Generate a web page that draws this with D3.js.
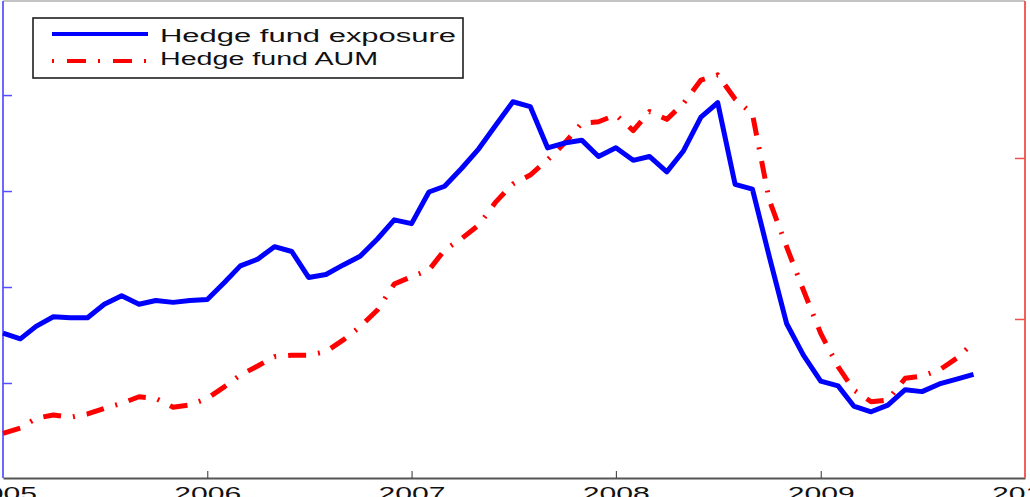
<!DOCTYPE html>
<html>
<head>
<meta charset="utf-8">
<script src="https://cdn.jsdelivr.net/npm/d3@7"></script>
<style>
  html, body { margin: 0; padding: 0; background: #fff; overflow: hidden; }
  svg { display: block; }
  text { font-family: "Liberation Sans", Arial, Helvetica, sans-serif; }
</style>
</head>
<body>
<svg id="chart" width="1030" height="497"></svg>
<script>
// ---- data ----
const startMonth = "2005-01";
const endMonth = "2009-10";
const yearTicks = [2005, 2006, 2007, 2008, 2009, 2010];
const tickLabels = ["2005", "2006", "2007", "2008", "2009", "2010"];
const seriesNames = ["Hedge fund exposure", "Hedge fund AUM"];
const exposure = [1.52, 1.46, 1.59, 1.69, 1.68, 1.68, 1.82, 1.91, 1.82, 1.86, 1.84, 1.86,
  1.87, 2.05, 2.22, 2.29, 2.42, 2.37, 2.10, 2.13, 2.23, 2.32, 2.50, 2.70,
  2.66, 2.99, 3.05, 3.24, 3.44, 3.69, 3.93, 3.88, 3.45, 3.50, 3.53, 3.36,
  3.45, 3.32, 3.36, 3.20, 3.42, 3.77, 3.92, 3.07, 3.02, 2.32, 1.62, 1.29,
  1.02, 0.97, 0.76, 0.70, 0.77, 0.93, 0.91, 0.99, 1.04, 1.09];
const aum = [0.290, 0.323, 0.383, 0.404, 0.389, 0.410, 0.445, 0.476, 0.517, 0.507, 0.452, 0.466,
  0.507, 0.580, 0.652, 0.708, 0.766, 0.775, 0.775, 0.797, 0.870, 0.952, 1.056, 1.217,
  1.263, 1.304, 1.429, 1.501, 1.584, 1.729, 1.839, 1.894, 1.988, 2.091, 2.216, 2.225,
  2.267, 2.170, 2.288, 2.240, 2.340, 2.484, 2.516, 2.366, 2.273, 1.739, 1.449, 1.180,
  0.911, 0.704, 0.559, 0.486, 0.497, 0.632, 0.646, 0.683, 0.756, 0.853];
const leftTicks = [1, 2, 3, 4];
const rightTicks = [1, 2];

// ---- setup ----
const svg = d3.select("#chart");
const parse = d3.utcParse("%Y-%m");
const months = d3.utcMonth.range(parse(startMonth), d3.utcMonth.offset(parse(endMonth), 1));

const plot = { left: 3, right: 1025, top: 1, bottom: 478 };

const x = d3.scaleUtc()
  .domain([new Date(Date.UTC(2005, 0, 1)), new Date(Date.UTC(2010, 0, 1))])
  .range([plot.left, plot.right]);
const yL = d3.scaleLinear().domain([0.01, 4.98]).range([plot.bottom, plot.top]);
const yR = d3.scaleLinear().domain([0.0124, 2.975]).range([plot.bottom, plot.top]);

// frame: top border
svg.append("line")
  .attr("x1", plot.left).attr("x2", plot.right)
  .attr("y1", plot.top).attr("y2", plot.top)
  .attr("stroke", "#b0b0b0").attr("stroke-width", 1.5);

// bottom axis
const xAxis = d3.axisBottom(x)
  .tickValues(yearTicks.map(yr => new Date(Date.UTC(yr, 0, 1))))
  .tickSizeInner(-7).tickSizeOuter(0).tickFormat("");
const gx = svg.append("g").attr("transform", `translate(0,${plot.bottom})`).call(xAxis);
gx.select(".domain").attr("stroke", "#555").attr("stroke-width", 2);
gx.selectAll(".tick line").attr("stroke", "#333").attr("stroke-width", 1);

// tick labels (stretched horizontally like the reference)
gx.selectAll(".tick").each(function(d, i) {
  d3.select(this).append("text")
    .attr("x", -33.5).attr("y", 22)
    .attr("text-anchor", "start")
    .attr("fill", "#111")
    .attr("font-size", 18)
    .attr("textLength", 67)
    .attr("lengthAdjust", "spacingAndGlyphs")
    .text(tickLabels[i]);
});

// left axis
const yAxisL = d3.axisRight(yL).tickValues(leftTicks).tickSizeInner(9).tickSizeOuter(0).tickFormat("");
const gl = svg.append("g").attr("transform", `translate(${plot.left},0)`).call(yAxisL);
gl.select(".domain").attr("stroke", "#6a6aff").attr("stroke-width", 2)
  .attr("d", `M0,${plot.top}V${plot.bottom}`);
gl.selectAll(".tick line").attr("stroke", "#5050ff").attr("stroke-width", 1.5);

// right axis
const yAxisR = d3.axisLeft(yR).tickValues(rightTicks).tickSizeInner(10).tickSizeOuter(0).tickFormat("");
const gr = svg.append("g").attr("transform", `translate(${plot.right},0)`).call(yAxisR);
gr.select(".domain").attr("stroke", "#f06060").attr("stroke-width", 2)
  .attr("d", `M0,${plot.top}V${plot.bottom}`);
gr.selectAll(".tick line").attr("stroke", "#f05050").attr("stroke-width", 1.5);

// lines
const lineL = d3.line().x((d, i) => x(months[i])).y(d => yL(d));
const lineR = d3.line().x((d, i) => x(months[i])).y(d => yR(d));

const redDash = "18,12,2,12";

svg.append("path").datum(aum)
  .attr("d", lineR)
  .attr("fill", "none").attr("stroke", "#ff0000").attr("stroke-width", 5)
  .attr("stroke-dasharray", redDash).attr("stroke-linejoin", "round");

svg.append("path").datum(exposure)
  .attr("d", lineL)
  .attr("fill", "none").attr("stroke", "#0000ff").attr("stroke-width", 5)
  .attr("stroke-linejoin", "round");

// legend
const lg = svg.append("g");
lg.append("rect")
  .attr("x", 33).attr("y", 18).attr("width", 430).attr("height", 60)
  .attr("fill", "#fff").attr("stroke", "#111").attr("stroke-width", 1.5);
lg.append("line").attr("x1", 52).attr("x2", 148).attr("y1", 34).attr("y2", 34)
  .attr("stroke", "#0000ff").attr("stroke-width", 4);
lg.append("line").attr("x1", 52).attr("x2", 148).attr("y1", 61).attr("y2", 61)
  .attr("stroke", "#ff0000").attr("stroke-width", 4)
  .attr("stroke-dasharray", "2,13,19,12");
lg.append("text").attr("x", 160).attr("y", 41.5).attr("font-size", 18)
  .attr("fill", "#111").attr("textLength", 296).attr("lengthAdjust", "spacingAndGlyphs")
  .text(seriesNames[0]);
lg.append("text").attr("x", 160).attr("y", 65).attr("font-size", 18)
  .attr("fill", "#111").attr("textLength", 218).attr("lengthAdjust", "spacingAndGlyphs")
  .text(seriesNames[1]);
</script>
</body>
</html>
